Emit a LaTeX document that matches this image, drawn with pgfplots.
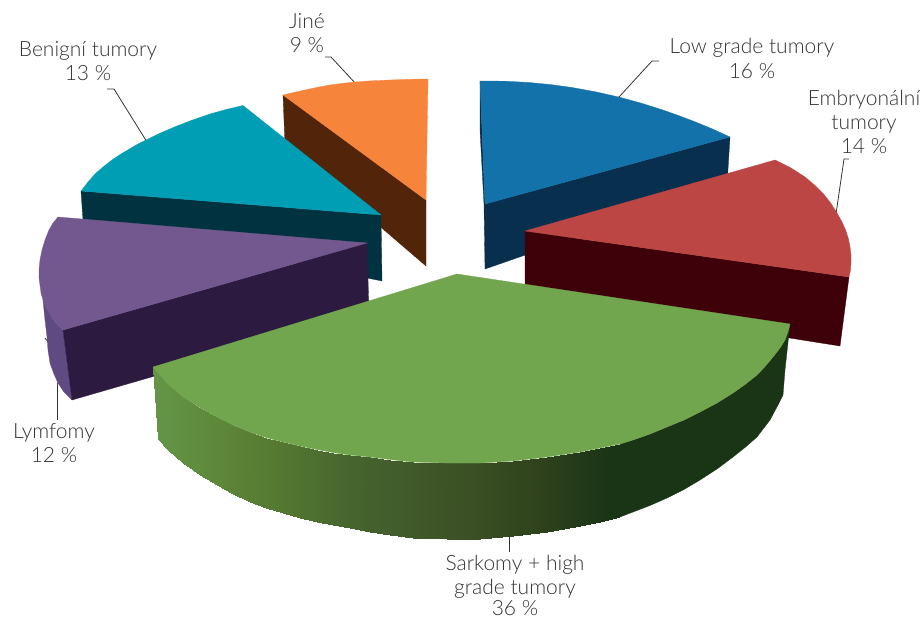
\documentclass[border=0pt]{standalone}
\usepackage{fontspec}
\setmainfont{Lato Light}
\usepackage{pgfplots}
\pgfplotsset{compat=1.18}
\definecolor{orangetop}{HTML}{F6843A}
\definecolor{orangeside}{HTML}{52250A}
\definecolor{tealtop}{HTML}{009EB4}
\definecolor{tealside}{HTML}{00323F}
\definecolor{purpletop}{HTML}{735890}
\definecolor{purpleside}{HTML}{2D1A40}
\definecolor{purplerim}{HTML}{5F4A82}
\definecolor{bluetop}{HTML}{1272A9}
\definecolor{blueside}{HTML}{082F4D}
\definecolor{redtop}{HTML}{BC4644}
\definecolor{redside}{HTML}{3E0009}
\definecolor{greentop}{HTML}{72A64E}
\definecolor{greendark}{RGB}{26,52,22}
\definecolor{txt}{HTML}{333333}
% one polygon of the chart, in picture pixels
\newcommand{\face}[2]{\addplot[draw=#1,line width=0.3pt,fill=#1] coordinates {#2} --cycle;}
\newcommand{\leader}[1]{\addplot[draw=txt,line width=0.8pt] coordinates {#1};}
\newcommand{\lab}[3]{\node[font=\fontsize{21}{24}\selectfont,text=txt,anchor=base] at (axis cs:#1,#2) {#3};}
\begin{document}
\begin{tikzpicture}
\useasboundingbox (0,0) rectangle (924pt,618pt);
\begin{axis}[
  scale only axis,width=924pt,height=618pt,
  xmin=0,xmax=924,ymin=0,ymax=618,y dir=reverse,
  hide axis,clip=false,
  point meta min=160,point meta max=640,
  colormap={rimgreen}{
    rgb255=(100,148,70) rgb255=(96,142,62) rgb255=(93,135,57) rgb255=(88,128,52)
    rgb255=(84,120,50) rgb255=(78,112,48) rgb255=(72,104,46) rgb255=(68,97,44)
    rgb255=(66,92,44) rgb255=(62,86,40) rgb255=(60,82,38) rgb255=(56,76,34)
    rgb255=(50,70,30) rgb255=(45,64,28) rgb255=(34,58,24) rgb255=(26,52,22)
    rgb255=(26,52,22)},
]
% leader lines
\leader{(325,57) (331,57) (356,84)}
\leader{(107,89) (114,89) (147,142)}
\leader{(659,61) (652,61) (619,97)}
\leader{(849,159) (844,159) (836,214)}
\leader{(57,383) (57,420)}
\leader{(45,338) (48,342)}
\leader{(509,537) (509,552)}
% Jine
\face{orangeside}{(283,95) (426,200) (426,266) (285,145)}
\face{orangetop}{(283,95) (294,92.4) (305,90) (318,87.2) (330,85) (343,83.3) (355,82) (372,80.8) (390,80) (409,79.3) (428,79) (426,200)}
% Benigni tumory
\face{tealside}{(81,191) (381,215) (382,281) (83,220)}
\face{tealtop}{(81,191) (88,182) (95,174) (103,167) (112,160) (121,154) (130,148.7) (138,144) (147,139.5) (161,132.8) (175,126.8) (192,120.2) (210,114) (226,109.5) (243,105.5) (381,215)}
% Lymfomy
\face{purplerim}{(43,300) (45,320) (47,337) (48,350) (50,363) (54,374) (58,383) (64,392) (72,400) (63,330) (57,324) (52,318) (47,309)}
\face{purpleside}{(63,330) (367,243) (369,314) (72,400)}
\face{purpletop}{(58,217) (53,223) (49,230) (45,240) (42,250) (40,260) (39,270) (39,278) (40,285) (41,293) (43,300) (47,309) (52,318) (57,324) (63,330) (367,243)}
% Low grade tumory
\face{blueside}{(480,81) (480,130) (484,204) (485,269) (727,185) (730,137) (485,204)}
\face{bluetop}{(480,81) (505,81.2) (529,82.5) (551,84.6) (572,87.5) (596,91.9) (619,97.1) (641,103.1) (662,109.7) (679,115.7) (695,121.8) (713,129.2) (730,137) (485,204)}
% Embryonalni tumory
\face{redside}{(525,231) (849,277) (840,346) (525,296)}
\face{redtop}{(775,160) (791,168) (805,177) (815,185.5) (824,194.5) (831,203.5) (837,213) (842,222) (846,231) (848.5,239) (850,247) (851,255) (851,262) (850.5,270) (849,277) (525,231)}
% Sarkomy + high grade tumory, rim from light to dark
\addplot[surf,shader=interp,mesh/rows=2,point meta=explicit] table[x=x,y=y,meta=c] {
x y c
153 367 160
168 384 168
183 397 183
200 407.5 200
217 417 217
233 425 233
250 432 250
266 437.5 266
283 442 283
300 446 300
317 449.5 317
333 452.5 333
350 455 350
370 457 370
390 459.5 390
413 462 413
447 463 447
480 463 480
513 461 513
547 457 547
580 452 580
600 448 600
620 444 620
158 439 160
168 450 168
183 463 183
200 475 200
217 485 217
233 494 233
250 502 250
266 508 266
283 513 283
300 518 300
317 522 317
333 525 333
350 528 350
370 531.5 370
390 535 390
413 538 413
447 539 447
480 539 480
513 536 513
547 532 547
580 526 580
600 522 600
620 517 620
};
\face{greendark}{(620,444) (633,440) (650,434) (667,427) (684,420) (700,412) (717,403) (733,393) (745,384.5) (757,375) (765,366.5) (773,357) (780,348) (785,340) (788,332) (790,324) (785,370) (783,395) (778,405) (770,420) (757,437) (745,447.5) (733,457) (717,469) (700,480) (684,489.5) (667,498) (650,505.5) (633,512) (620,517)}
\face{greentop}{(153,367) (457,274) (790,324) (788,332) (785,340) (780,348) (773,357) (765,366.5) (757,375) (745,384.5) (733,393) (717,403) (700,412) (684,420) (667,427) (650,434) (633,440) (620,444) (600,448) (580,452) (547,457) (513,461) (480,463) (447,463) (413,462) (390,459.5) (370,457) (350,455) (333,452.5) (317,449.5) (300,446) (283,442) (266,437.5) (250,432) (233,425) (217,417) (200,407.5) (183,397) (168,384)}
% labels
\lab{307}{29}{Jiné}
\lab{307}{53}{9 \%}
\lab{88}{57}{Benigní tumory}
\lab{88}{81}{13 \%}
\lab{752}{54}{Low grade tumory}
\lab{752}{78}{16 \%}
\lab{864}{105}{Embryonální}
\lab{864}{129}{tumory}
\lab{864}{153}{14 \%}
\lab{54}{438}{Lymfomy}
\lab{54}{462}{12 \%}
\lab{515}{570}{Sarkomy + high}
\lab{515}{594}{grade tumory}
\lab{515}{615}{36 \%}
\end{axis}
\end{tikzpicture}
\end{document}
